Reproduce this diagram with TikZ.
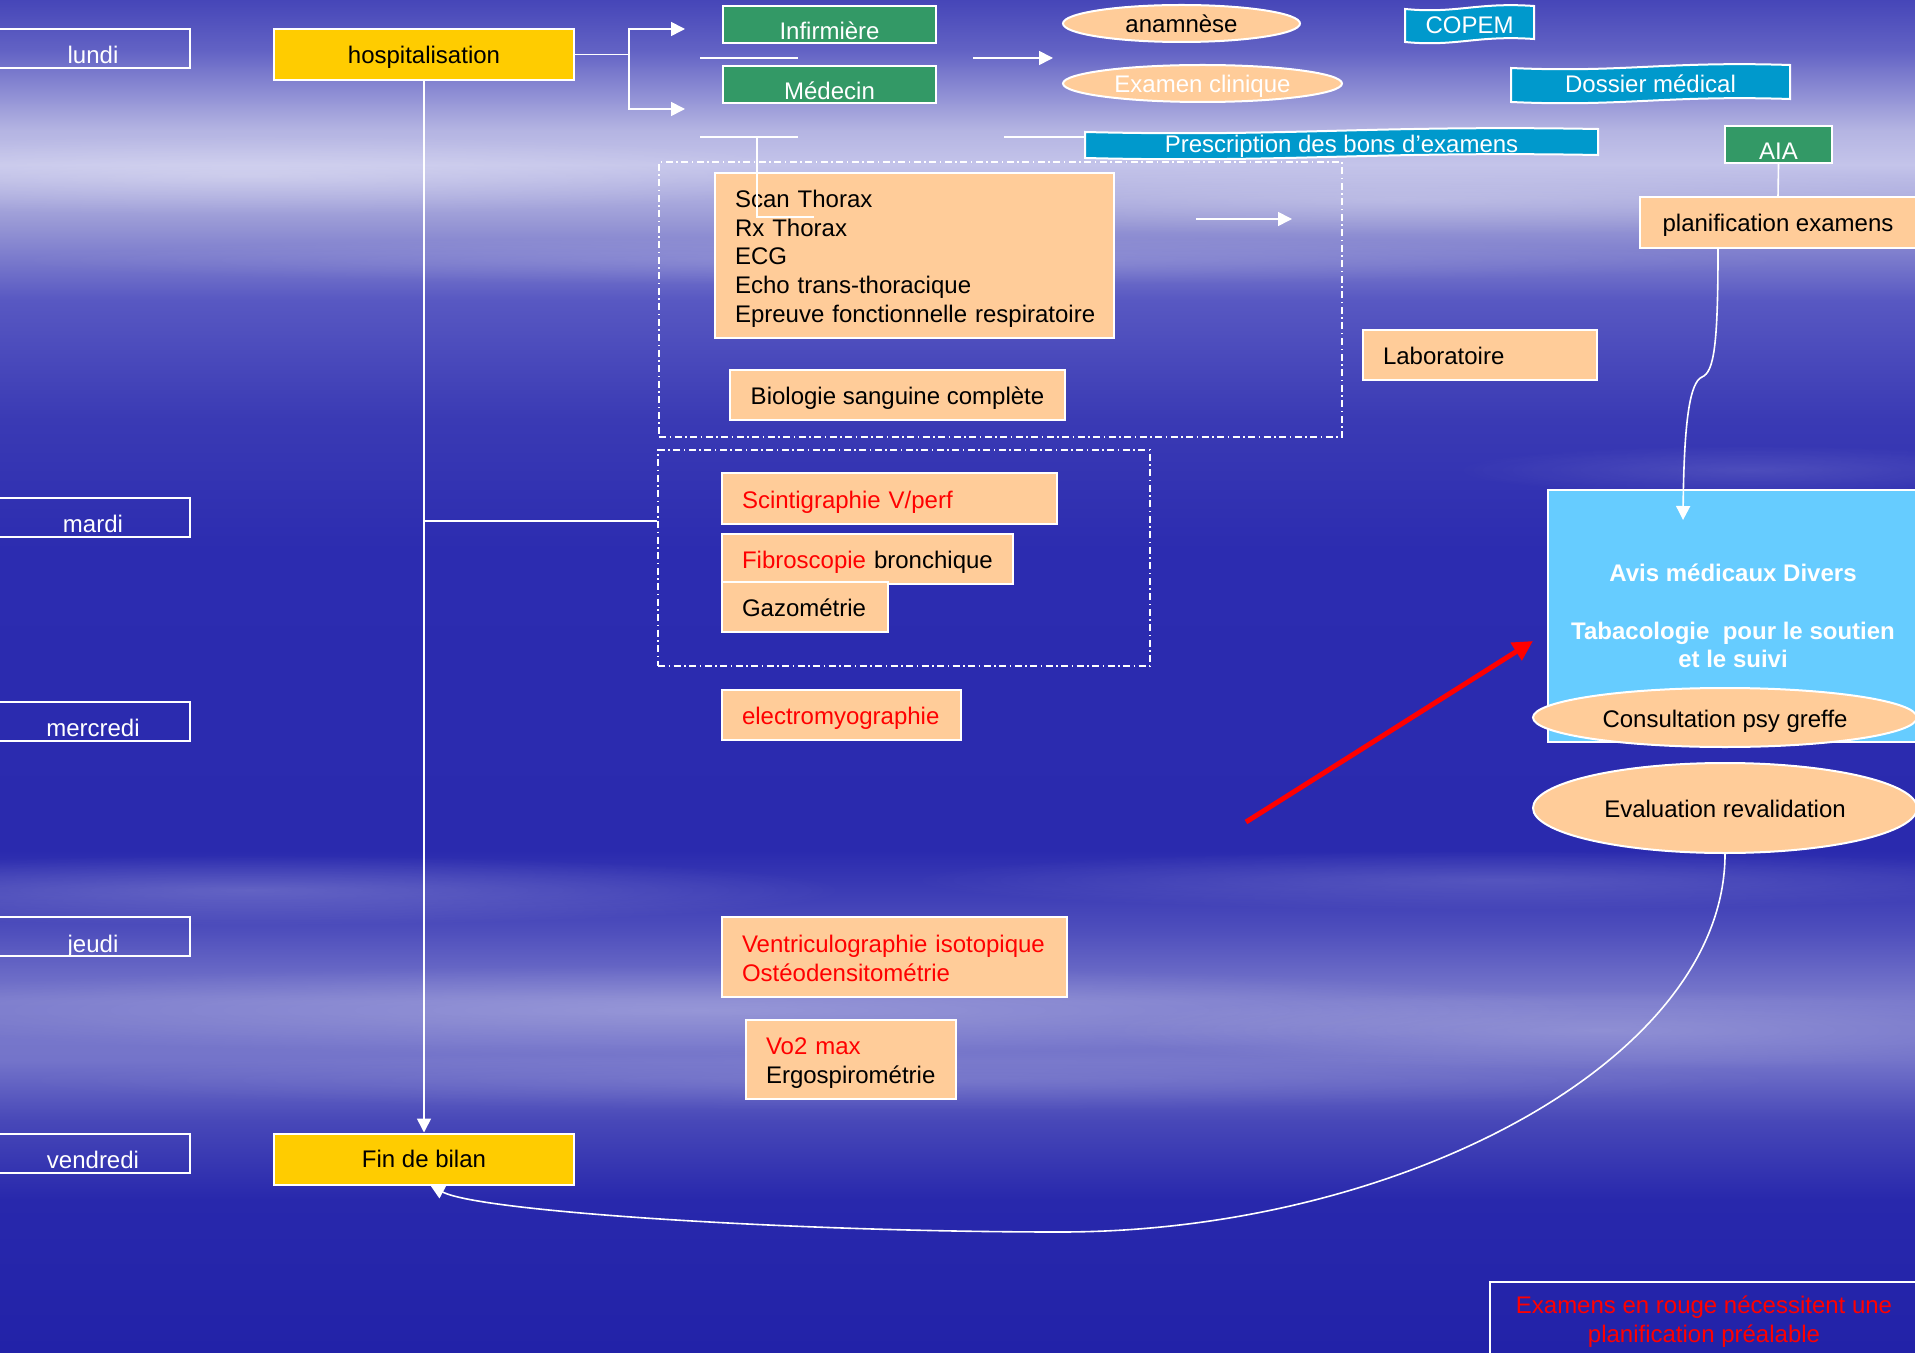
\documentclass[tikz,border=0pt]{standalone}
\usepackage{fontspec}
\setmainfont{Liberation Sans}
\usetikzlibrary{shapes.geometric,arrows.meta,fadings}
\definecolor{yel}{HTML}{FFCC00}
\definecolor{grn}{HTML}{339966}
\definecolor{pch}{HTML}{FFCC99}
\definecolor{bnr}{HTML}{0099CC}
\definecolor{lbl}{HTML}{66CCFF}
\definecolor{rd}{HTML}{FF0000}
\definecolor{bgA}{HTML}{4646B8}
\definecolor{bgB}{HTML}{6262C4}
\definecolor{bgC}{HTML}{B4B4E2}
\definecolor{bgD}{HTML}{C4C4EA}
\definecolor{bgE}{HTML}{9A9AD6}
\definecolor{bgF}{HTML}{5858C2}
\definecolor{bgG}{HTML}{3A3AB4}
\definecolor{bgH}{HTML}{2C2CB0}
\definecolor{bgI}{HTML}{2A2AAE}
\definecolor{bgJ}{HTML}{4E4EBC}
\definecolor{bgK}{HTML}{7A7ACC}
\definecolor{bgL}{HTML}{7474CA}
\definecolor{bgM}{HTML}{4848B8}
\definecolor{bgN}{HTML}{2828AC}
\definecolor{bgO}{HTML}{2222A8}
\pgfdeclareverticalshading{bgshade}{100bp}{color(0bp)=(bgO); color(25bp)=(bgO); color(30.65bp)=(bgN); color(33.61bp)=(bgM); color(35.83bp)=(bgL); color(38.05bp)=(bgK); color(40.63bp)=(bgJ); color(43.59bp)=(bgI); color(54.68bp)=(bgH); color(59.48bp)=(bgG); color(63.91bp)=(bgF); color(66.87bp)=(bgE); color(68.90bp)=(bgD); color(70.20bp)=(bgC); color(73.15bp)=(bgB); color(75bp)=(bgA); color(100bp)=(bgA)}
\tikzfading[name=softell, inner color=transparent!0, outer color=transparent!100]
\newcommand{\mywave}[4]{%
  \filldraw[fill=bnr, draw=white, line width=1pt]
   (#1,#2+3) .. controls ({#1+0.4*(#3-#1)},#2+8) and ({#1+0.55*(#3-#1)},#2-4) .. (#3,#2)
   -- (#3,#4-3) .. controls ({#1+0.55*(#3-#1)},#4-7) and ({#1+0.4*(#3-#1)},#4+5) .. (#1,#4) -- cycle;}
\tikzset{
  every node/.append style={font=\fontsize{12}{14.4}\selectfont},
  wline/.style={draw=white, line width=0.8pt},
  warrow/.style={wline, -{Triangle[width=7pt,length=7pt]}},
  redarrow/.style={draw=rd, line width=2.5pt, -{Triangle[width=10pt,length=10pt]}},
  lowtext/.style={text height=15.5pt, text depth=0pt, inner sep=1pt},
  oneline/.style={text height=10.5pt, text depth=1pt},
  daybox/.style={draw=white, line width=1pt, text=white, minimum width=97pt, minimum height=19.5pt, lowtext},
  greenbox/.style={fill=grn, draw=white, line width=1pt, text=white, minimum height=18.5pt, lowtext},
  yelbox/.style={fill=yel, draw=white, line width=1pt, minimum width=150pt, minimum height=25.5pt, text height=9.8pt, text depth=1pt},
  pbox/.style={fill=pch, draw=white, line width=1pt, inner xsep=10pt, align=left},
  pcbox/.style={fill=pch, draw=white, line width=1pt, oneline},
  pell/.style={ellipse, fill=pch, draw=white, line width=1pt, inner sep=0pt, oneline},
  btext/.style={text=white, inner sep=0pt, oneline},
  dashbox/.style={draw=white, line width=1pt, dash pattern=on 3.5pt off 1.75pt on 0.75pt off 1.75pt, inner sep=0pt},
}
\begin{document}
\begin{tikzpicture}[x=0.5pt, y=-0.5pt]
\useasboundingbox (0,0) rectangle (1915,1353);
\shade[shading=bgshade] (0,0) rectangle (1915,1353);
\clip (0,0) rectangle (1915,1353);
% soft streaks
\fill[white, opacity=0.25, path fading=softell] (250,175) ellipse (600 and 40);
\fill[white, opacity=0.2, path fading=softell] (1400,200) ellipse (700 and 35);
\fill[white, opacity=0.15, path fading=softell] (900,260) ellipse (900 and 25);
\fill[white, opacity=0.2, path fading=softell] (250,890) ellipse (600 and 35);
\fill[white, opacity=0.15, path fading=softell] (1500,880) ellipse (600 and 30);
\fill[white, opacity=0.22, path fading=softell] (700,1010) ellipse (900 and 45);
\fill[white, opacity=0.18, path fading=softell] (1600,1030) ellipse (500 and 40);
\fill[white, opacity=0.12, path fading=softell] (900,1080) ellipse (900 and 30);
\fill[white, opacity=0.12, path fading=softell] (1750,470) ellipse (300 and 25);

% dashed groups
\node[dashbox, minimum width=341.5pt, minimum height=137.5pt] (dash1) at (1000.5,299.5) {};
\node[dashbox, minimum width=246pt, minimum height=108pt] (dash2) at (904,558) {};

% day labels
\node[daybox] (lundi) at (93,48.5) {lundi};
\node[daybox] (mardi) at (93,517) {mardi};
\node[daybox] (mercredi) at (93,721) {mercredi};
\node[daybox] (jeudi) at (93,936.5) {jeudi};
\node[daybox] (vendredi) at (93,1153) {vendredi};

% main column
\node[yelbox] (hosp) at (424,54.5) {hospitalisation};
\node[yelbox] (fin) at (424,1159) {Fin de bilan};

% staff
\node[greenbox, minimum width=106.5pt] (inf) at (829.5,24.5) {Infirmière};
\node[greenbox, minimum width=106.5pt] (med) at (829.5,84.5) {Médecin};
\node[greenbox, minimum width=53.5pt] (aia) at (1778.5,144.5) {AIA};

% ellipses top
\node[pell, minimum width=118.5pt, minimum height=18.5pt] (anam) at (1181.5,23.5) {anamnèse};
\node[pell, text=white, minimum width=139.5pt, minimum height=18.5pt] (exam) at (1202.5,83.5) {Examen clinique};

% banners
\mywave{1085}{129}{1598}{158}
\node[btext, minimum width=256.5pt] (presc) at (1341.5,143.5) {Prescription des bons d’examens};
\mywave{1405}{6}{1534}{42}
\node[btext] (copem) at (1469.5,24) {COPEM};
\mywave{1511}{65}{1790}{102}
\node[btext] (dossier) at (1650.5,83.5) {Dossier médical};

\node[pcbox, minimum width=138pt, minimum height=25.5pt] (plan) at (1778,222.5) {planification examens};

% exam boxes
\node[pbox, text width=179.5pt, minimum height=82.5pt] (scan) at (914.5,255.5) {\rule{0pt}{11.8pt}Scan Thorax\\Rx Thorax\\ECG\\Echo trans-thoracique\\\mbox{Epreuve fonctionnelle respiratoire}};
\node[pcbox, minimum width=167.5pt, minimum height=25pt] (bio) at (897.5,395) {Biologie sanguine complète};
\node[pbox, oneline, text width=97pt, minimum height=25pt] (labo) at (1480,355) {Laboratoire};
\node[pbox, oneline, text=rd, text width=147.5pt, minimum height=25.5pt] (scint) at (889.5,498.5) {Scintigraphie V/perf};
\node[pbox, oneline, text width=125.5pt, minimum height=25pt] (fibro) at (867.5,559) {\mbox{{\color{rd}Fibroscopie} bronchique}};
\node[pbox, oneline, text width=63pt, minimum height=25pt] (gazo) at (805,607) {Gazométrie};
\node[pbox, oneline, text=rd, text width=99.5pt, minimum height=25pt] (emg) at (841.5,715) {electromyographie};
\node[pbox, text=rd, text width=152.5pt, minimum height=40pt] (ventri) at (894.5,957) {\rule{0pt}{10.3pt}\mbox{Ventriculographie isotopique}\\Ostéodensitométrie};
\node[pbox, text width=85pt, minimum height=39.5pt] (vo2) at (851,1059.5) {\rule{0pt}{11.6pt}{\color{rd}Vo2 max}\\Ergospirométrie};

% right column
\node[fill=lbl, draw=white, line width=1pt, text=white, font=\fontsize{12}{14.4}\selectfont\bfseries, align=center, minimum width=185pt, minimum height=126pt, inner sep=0pt] (avis) at (1733,616) {Avis médicaux Divers\\[14.4pt]Tabacologie~ pour le soutien\\et le suivi};
\node[pell, minimum width=192pt, minimum height=29.5pt] (psy) at (1725,717.5) {Consultation psy greffe};
\node[pell, minimum width=192pt, minimum height=45pt] (eval) at (1725,808) {Evaluation revalidation};

% legend
\node[draw=white, line width=1pt, text=rd, align=center, minimum width=214pt, minimum height=40pt, inner sep=0pt] (legend) at (1704,1322) {Examens en rouge nécessitent une\\planification préalable};

% connectors
\coordinate (br) at (629,54.5);
\coordinate (tA) at (685,29);
\coordinate (tB) at (685,109);
\draw[wline] (hosp.east) -- (br);
\draw[warrow] (br) |- (tA);
\draw[warrow] (br) |- (tB);

\coordinate (l1a) at (700,58);
\coordinate (l1b) at (798,58);
\draw[wline] (l1a) -- (l1b);
\coordinate (l2a) at (700,137);
\coordinate (l2b) at (798,137);
\draw[wline] (l2a) -- (l2b);
\coordinate (lc) at (757,137);
\coordinate (ld) at (814,217);
\draw[wline] (lc) |- (ld);

\coordinate (a1a) at (973,58);
\coordinate (a1b) at (1053,58);
\draw[warrow] (a1a) -- (a1b);
\coordinate (l3a) at (1004,137);
\draw[wline] (l3a) -- (l3a -| presc.west);
\coordinate (a2a) at (1196,219);
\coordinate (a2b) at (1292,219);
\draw[warrow] (a2a) -- (a2b);

\draw[warrow] (hosp.south) -- (fin.north);
\coordinate (d2in) at ([yshift=18.5pt]dash2.west);
\draw[wline] (hosp.south |- d2in) -- (d2in);
\draw[wline] (aia.south) -- (plan.north);

\coordinate (avisin) at (1683,520);
\draw[warrow] ([xshift=-30pt]plan.south) .. controls (1718,345) and (1714,372) .. (1702,377) .. controls (1690,382) and (1684,420) .. (avisin);

\coordinate (rs) at (1246,822);
\coordinate (re) at (1533,641);
\draw[redarrow] (rs) -- (re);

\coordinate (cb) at (1060,1232);
\draw[warrow] (eval.south) .. controls (1725,1060) and (1400,1232) .. (cb) .. controls (800,1232) and (480,1212) .. ([xshift=3.25pt]fin.south);
\end{tikzpicture}
\end{document}
